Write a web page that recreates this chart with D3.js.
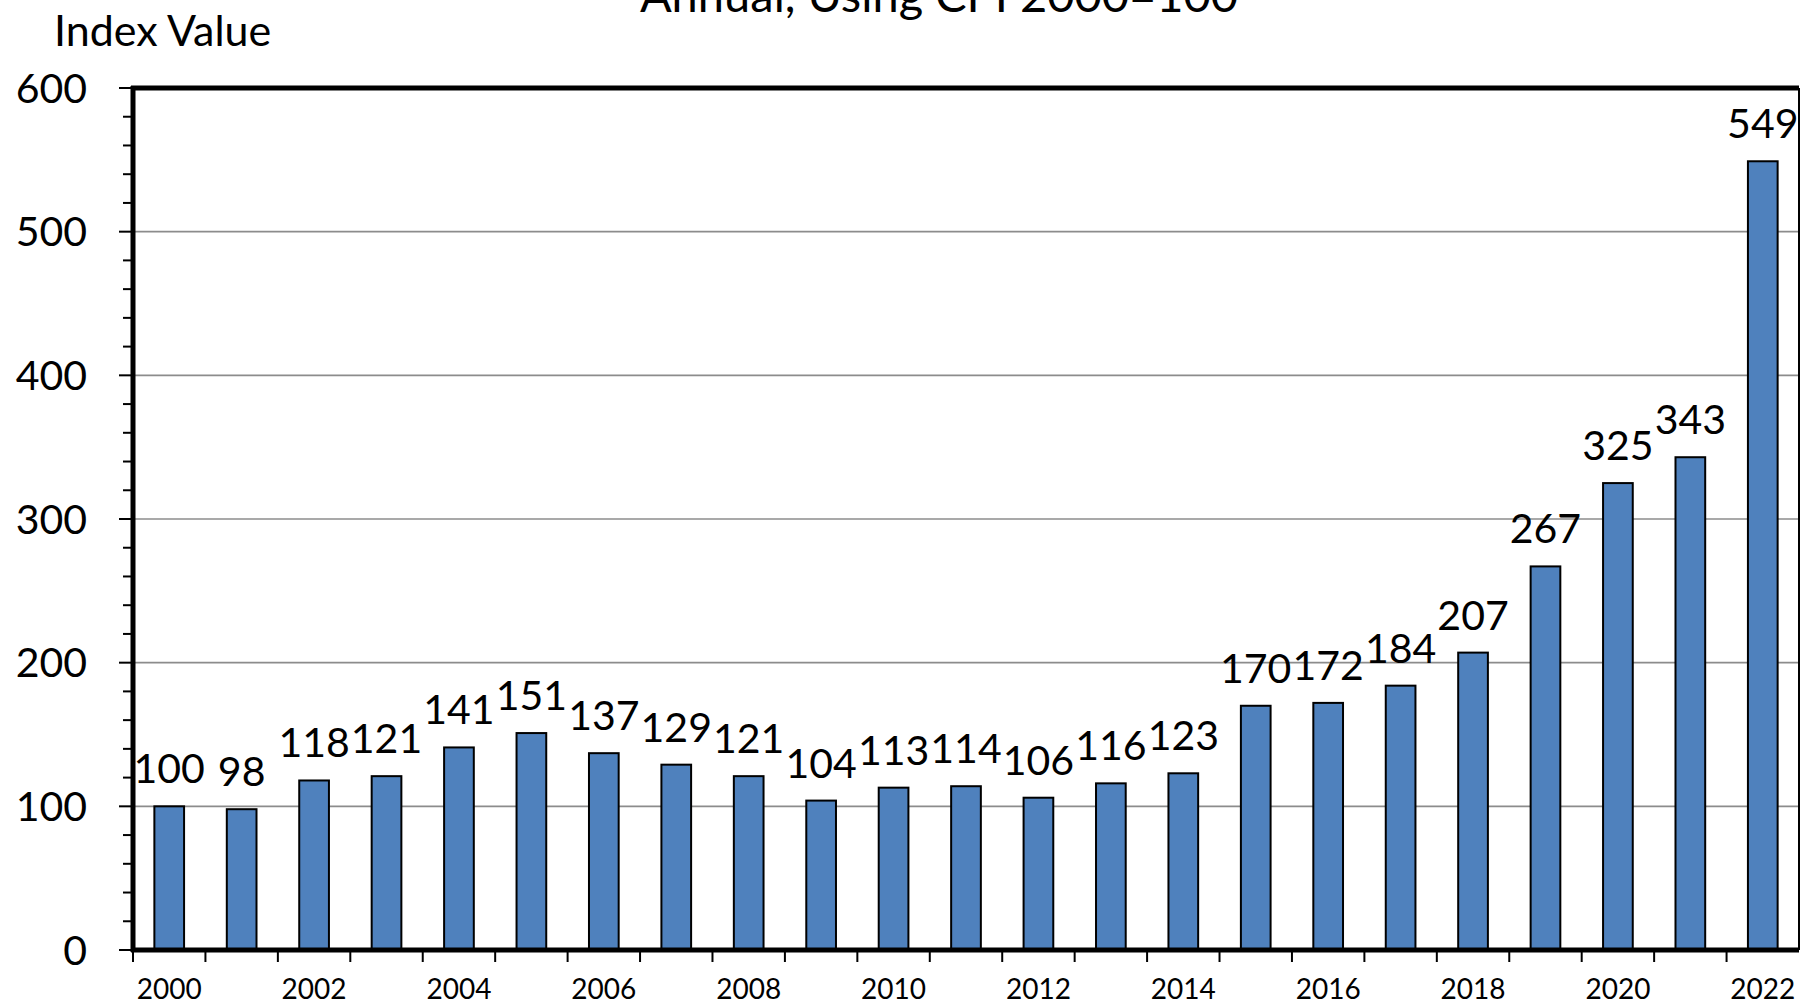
<!DOCTYPE html>
<html>
<head>
<meta charset="utf-8">
<script src="https://cdn.jsdelivr.net/npm/d3@7"></script>
<style>
  html, body { margin: 0; padding: 0; background: #fff; overflow: hidden; }
  svg { display: block; font-family: Lato, "Open Sans", sans-serif; }
</style>
</head>
<body>
<div id="chart"></div>
<script>
// data
var years = d3.range(2000, 2023).map(String);
var values = [100, 98, 118, 121, 141, 151, 137, 129, 121, 104, 113, 114, 106, 116, 123, 170, 172, 184, 207, 267, 325, 343, 549];
var yTicks = [0, 100, 200, 300, 400, 500, 600];
var yMinor = d3.range(0, 601, 20);
var xLabels = years.filter(function (d) { return +d % 2 === 0; });
var title = "Annual, Using CPI 2000=100";
var yTitle = "Index Value";

var W = 1800, H = 1004;
var margin = { left: 133, right: 1799, top: 88, bottom: 950 };

var svg = d3.select('#chart').append('svg')
    .attr('width', W)
    .attr('height', H);

var x = d3.scaleBand().domain(years).range([margin.left, margin.right]).padding(0);
var y = d3.scaleLinear().domain([0, 600]).range([margin.bottom, margin.top]);
var barW = x.bandwidth() * 0.41;

// title (clipped at top in original)
svg.append('text')
    .attr('x', 939)
    .attr('y', 12)
    .attr('text-anchor', 'middle')
    .attr('font-size', 47)
    .text(title);

svg.append('text')
    .attr('x', 54)
    .attr('y', 46)
    .attr('font-size', 43)
    .text(yTitle);

// gridlines
svg.append('g').selectAll('line')
    .data(yTicks.filter(function (d) { return d > 0 && d < 600; }))
    .enter().append('line')
    .attr('x1', margin.left).attr('x2', margin.right)
    .attr('y1', function (d) { return y(d); })
    .attr('y2', function (d) { return y(d); })
    .attr('stroke', '#8c8c8c')
    .attr('stroke-width', 1.6);

// bars
svg.append('g').selectAll('rect')
    .data(values)
    .enter().append('rect')
    .attr('x', function (d, i) { return x(years[i]) + (x.bandwidth() - barW) / 2; })
    .attr('y', function (d) { return y(d); })
    .attr('width', barW)
    .attr('height', function (d) { return y(0) - y(d); })
    .attr('fill', '#4f81bd')
    .attr('stroke', '#000')
    .attr('stroke-width', 2);

// value labels
svg.append('g').selectAll('text')
    .data(values)
    .enter().append('text')
    .attr('x', function (d, i) { return x(years[i]) + x.bandwidth() / 2; })
    .attr('y', function (d) { return y(d) - 23; })
    .attr('text-anchor', 'middle')
    .attr('font-size', 41)
    .text(function (d) { return d; });

// frame
var frame = svg.append('g').attr('stroke', '#000');
frame.append('line').attr('x1', margin.left - 2).attr('x2', margin.right).attr('y1', margin.top).attr('y2', margin.top).attr('stroke-width', 5);
frame.append('line').attr('x1', margin.right).attr('x2', margin.right).attr('y1', margin.top).attr('y2', margin.bottom).attr('stroke-width', 2);
frame.append('line').attr('x1', margin.left).attr('x2', margin.left).attr('y1', margin.top - 2).attr('y2', margin.bottom + 2).attr('stroke-width', 5);
frame.append('line').attr('x1', margin.left - 2).attr('x2', margin.right).attr('y1', margin.bottom).attr('y2', margin.bottom).attr('stroke-width', 5);

// y ticks (major + minor)
svg.append('g').selectAll('line')
    .data(yMinor)
    .enter().append('line')
    .attr('x1', function (d) { return d % 100 === 0 ? margin.left - 14 : margin.left - 10; })
    .attr('x2', margin.left)
    .attr('y1', function (d) { return y(d); })
    .attr('y2', function (d) { return y(d); })
    .attr('stroke', '#000')
    .attr('stroke-width', 2);

svg.append('g').selectAll('text')
    .data(yTicks)
    .enter().append('text')
    .attr('x', 87)
    .attr('y', function (d) { return y(d); })
    .attr('dy', '0.36em')
    .attr('text-anchor', 'end')
    .attr('font-size', 41)
    .text(function (d) { return d; });

// x ticks at category boundaries
svg.append('g').selectAll('line')
    .data(years)
    .enter().append('line')
    .attr('x1', function (d) { return x(d); })
    .attr('x2', function (d) { return x(d); })
    .attr('y1', margin.bottom)
    .attr('y2', margin.bottom + 12)
    .attr('stroke', '#000')
    .attr('stroke-width', 2);

svg.append('g').selectAll('text')
    .data(xLabels)
    .enter().append('text')
    .attr('x', function (d) { return x(d) + x.bandwidth() / 2; })
    .attr('y', 999)
    .attr('text-anchor', 'middle')
    .attr('font-size', 28)
    .text(function (d) { return d; });
</script>
</body>
</html>
